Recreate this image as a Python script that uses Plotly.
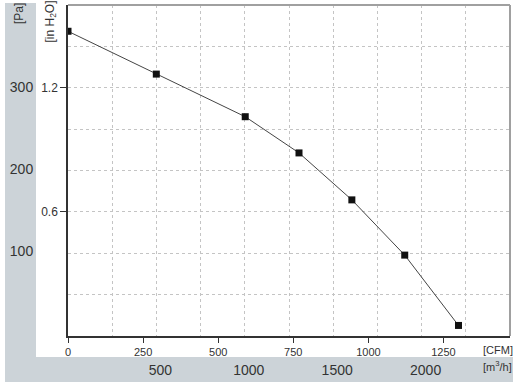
import plotly.graph_objects as go

# ---- data ----
flow_cfm = [0, 294, 590, 769, 945, 1121, 1300]
press_inh2o = [1.473, 1.266, 1.060, 0.885, 0.658, 0.391, 0.051]

cfm_ticks = [0, 250, 500, 750, 1000, 1250]
m3h_ticks = [500, 1000, 1500, 2000]
inh2o_ticks = [0.6, 1.2]
pa_ticks = [100, 200, 300]

CFM_TO_M3H = 1.69901
INH2O_TO_PA = 249.089

flow_m3h = [v * CFM_TO_M3H for v in flow_cfm]
press_pa = [v * INH2O_TO_PA for v in press_inh2o]

W, H = 518, 386
L, R, T, B = 68, 8, 5, 50
pw, ph = W - L - R, H - T - B

def px(xp):
    return (xp - L) / pw

def py(yp):
    return (H - B - yp) / ph

GRAY_BG = "#ccd3d8"
TXT = "#333333"
FONT = "Liberation Sans"

fig = go.Figure()
fig.add_trace(go.Scatter(
    x=flow_cfm, y=press_inh2o, mode="lines+markers",
    line=dict(color="#444444", width=1),
    marker=dict(symbol="square", size=7, color="#111111"),
    showlegend=False, hoverinfo="skip",
))
# companion trace on the m3/h / Pa axes (invisible)
fig.add_trace(go.Scatter(
    x=flow_m3h, y=press_pa, xaxis="x2", yaxis="y2", mode="markers",
    marker=dict(opacity=0), showlegend=False, hoverinfo="skip",
))

grid = dict(showgrid=True, gridcolor="#c4c4c4", griddash="dot", gridwidth=1)

fig.update_layout(
    width=W, height=H,
    margin=dict(l=L, r=R, t=T, b=B),
    paper_bgcolor="white", plot_bgcolor="white",
    font=dict(family=FONT, color=TXT),
    xaxis=dict(
        range=[0, 2500 / CFM_TO_M3H], tickvals=cfm_ticks,
        ticks="outside", ticklen=5, tickcolor="#333333", tickwidth=1,
        showline=True, linecolor="#333333", linewidth=1.5,
        showgrid=False, zeroline=False,
        tickfont=dict(size=11, color=TXT, family=FONT),
    ),
    xaxis2=dict(
        overlaying="x", anchor="y2", side="bottom",
        range=[0, 2500], tickvals=m3h_ticks,
        ticks="outside", ticklen=21, tickcolor="rgba(0,0,0,0)",
        showline=False, zeroline=False, ticklabelshift=4,
        tickfont=dict(size=14, color=TXT, family=FONT),
        minor=dict(dtick=250, tick0=0, ticks="", **grid),
        **grid,
    ),
    yaxis=dict(
        range=[0, 1.6], tickvals=inh2o_ticks, ticktext=["0.6", "1.2"],
        ticks="outside", ticklen=6, tickcolor="#333333", tickwidth=1,
        showline=True, linecolor="#333333", linewidth=1.5,
        zeroline=False,
        tickfont=dict(size=12, color=TXT, family=FONT),
        minor=dict(dtick=0.2, tick0=0, ticks="", **grid),
        **grid,
    ),
    yaxis2=dict(
        overlaying="y", anchor="x2", side="left",
        range=[-4, 400], tickvals=pa_ticks,
        ticks="outside", ticklen=31, tickcolor="rgba(0,0,0,0)",
        showline=False, showgrid=False, zeroline=False,
        tickfont=dict(size=14, color=TXT, family=FONT),
    ),
    shapes=[
        dict(type="rect", xref="paper", yref="paper", layer="below",
             x0=px(5), x1=px(36), y0=py(382), y1=py(3),
             fillcolor=GRAY_BG, line=dict(width=0)),
        dict(type="rect", xref="paper", yref="paper", layer="below",
             x0=px(5), x1=px(513), y0=py(382), y1=py(357),
             fillcolor=GRAY_BG, line=dict(width=0)),
        dict(type="line", xref="paper", yref="paper",
             x0=0, x1=1, y0=1, y1=1, line=dict(color="#a0a0a0", width=2)),
        dict(type="line", xref="paper", yref="paper",
             x0=1, x1=1, y0=0, y1=1, line=dict(color="#a0a0a0", width=2)),
    ],
    annotations=[
        dict(text="[Pa]", xref="paper", yref="paper", x=px(19.5), y=py(13.5),
             textangle=-90, showarrow=False, xanchor="center", yanchor="middle",
             font=dict(size=12, color=TXT, family=FONT)),
        dict(text="[in H<sub>2</sub>O]", xref="paper", yref="paper", x=px(51), y=py(21.5),
             textangle=-90, showarrow=False, xanchor="center", yanchor="middle",
             font=dict(size=12, color=TXT, family=FONT)),
        dict(text="[CFM]", xref="paper", yref="paper", x=px(497.5), y=py(350),
             showarrow=False, xanchor="center", yanchor="middle",
             font=dict(size=11, color=TXT, family=FONT)),
        dict(text="[m<sup>3</sup>/h]", xref="paper", yref="paper", x=px(497.5), y=py(366),
             showarrow=False, xanchor="center", yanchor="middle",
             font=dict(size=11, color=TXT, family=FONT)),
    ],
)

fig.write_html("out.html")
